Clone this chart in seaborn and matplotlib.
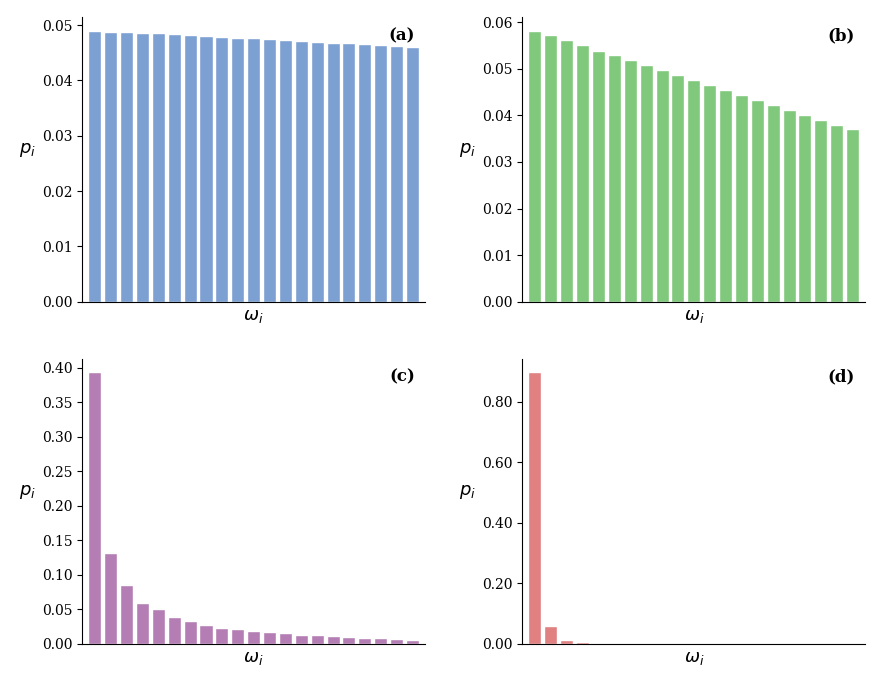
import seaborn as sns
import numpy as np
import matplotlib.pyplot as plt
from matplotlib.ticker import FormatStrFormatter

# probabilities p_i for 21 states omega_i, four cases
states = list(range(21))

p_a = [0.0490, 0.0488, 0.0487, 0.0486, 0.0485, 0.0483, 0.0482, 0.0480, 0.0479,
       0.0477, 0.0476, 0.0474, 0.0473, 0.0471, 0.0470, 0.0468, 0.0467, 0.0465,
       0.0464, 0.0462, 0.0461]
p_b = [0.0582, 0.0572, 0.0561, 0.0551, 0.0539, 0.0529, 0.0519, 0.0508, 0.0497,
       0.0486, 0.0476, 0.0465, 0.0454, 0.0444, 0.0434, 0.0422, 0.0412, 0.0401,
       0.0391, 0.0380, 0.0370]
p_c = [0.3932, 0.1310, 0.0845, 0.0585, 0.0502, 0.0390, 0.0329, 0.0271, 0.0232,
       0.0208, 0.0184, 0.0164, 0.0150, 0.0130, 0.0121, 0.0106, 0.0097, 0.0087,
       0.0077, 0.0068, 0.0058]
p_d = [0.8970, 0.0580, 0.0130, 0.0066, 0.0030, 0.0018, 0.0010, 0.0006, 0.0004,
       0.0003, 0.0002, 0.0002, 0.0001, 0.0001, 0.0001, 0.0001, 0.0001, 0.0001,
       0.0001, 0.0001, 0.0001]

panels = ['(a)', '(b)', '(c)', '(d)']
colors = ['#7DA0D2', '#80C87C', '#B47EB4', '#E08080']
series = [p_a, p_b, p_c, p_d]

sns.set_style('ticks')
plt.rcParams['font.family'] = ['DejaVu Serif']
plt.rcParams['mathtext.fontset'] = 'dejavusans'
for key in ['text.color', 'axes.labelcolor', 'xtick.color', 'ytick.color', 'axes.edgecolor']:
    plt.rcParams[key] = 'black'

fig, axes = plt.subplots(2, 2, figsize=(8.83, 6.79), dpi=100)
fig.subplots_adjust(left=0.093, right=0.98, top=0.975, bottom=0.052,
                    wspace=0.283, hspace=0.2)

for ax, vals, col, lab in zip(axes.flat, series, colors, panels):
    sns.barplot(x=states, y=vals, color=col, saturation=1, width=0.82,
                edgecolor='white', linewidth=1, ax=ax)
    ax.set_xlim(-0.8, 20.8)
    ax.set_xticks([])
    ax.set_xlabel(r'$\omega_i$', fontsize=13)
    ax.set_ylabel(r'$p_i$', fontsize=13, rotation=0)
    ax.yaxis.set_label_coords(-0.16, 0.5)
    ax.tick_params(axis='y', labelsize=10)
    ax.text(0.97, 0.935, lab, transform=ax.transAxes, ha='right', va='center',
            fontsize=12, fontweight='bold')
    sns.despine(ax=ax)

axes[1, 1].yaxis.set_major_formatter(FormatStrFormatter('%.2f'))

plt.savefig('out.png', dpi=100)
